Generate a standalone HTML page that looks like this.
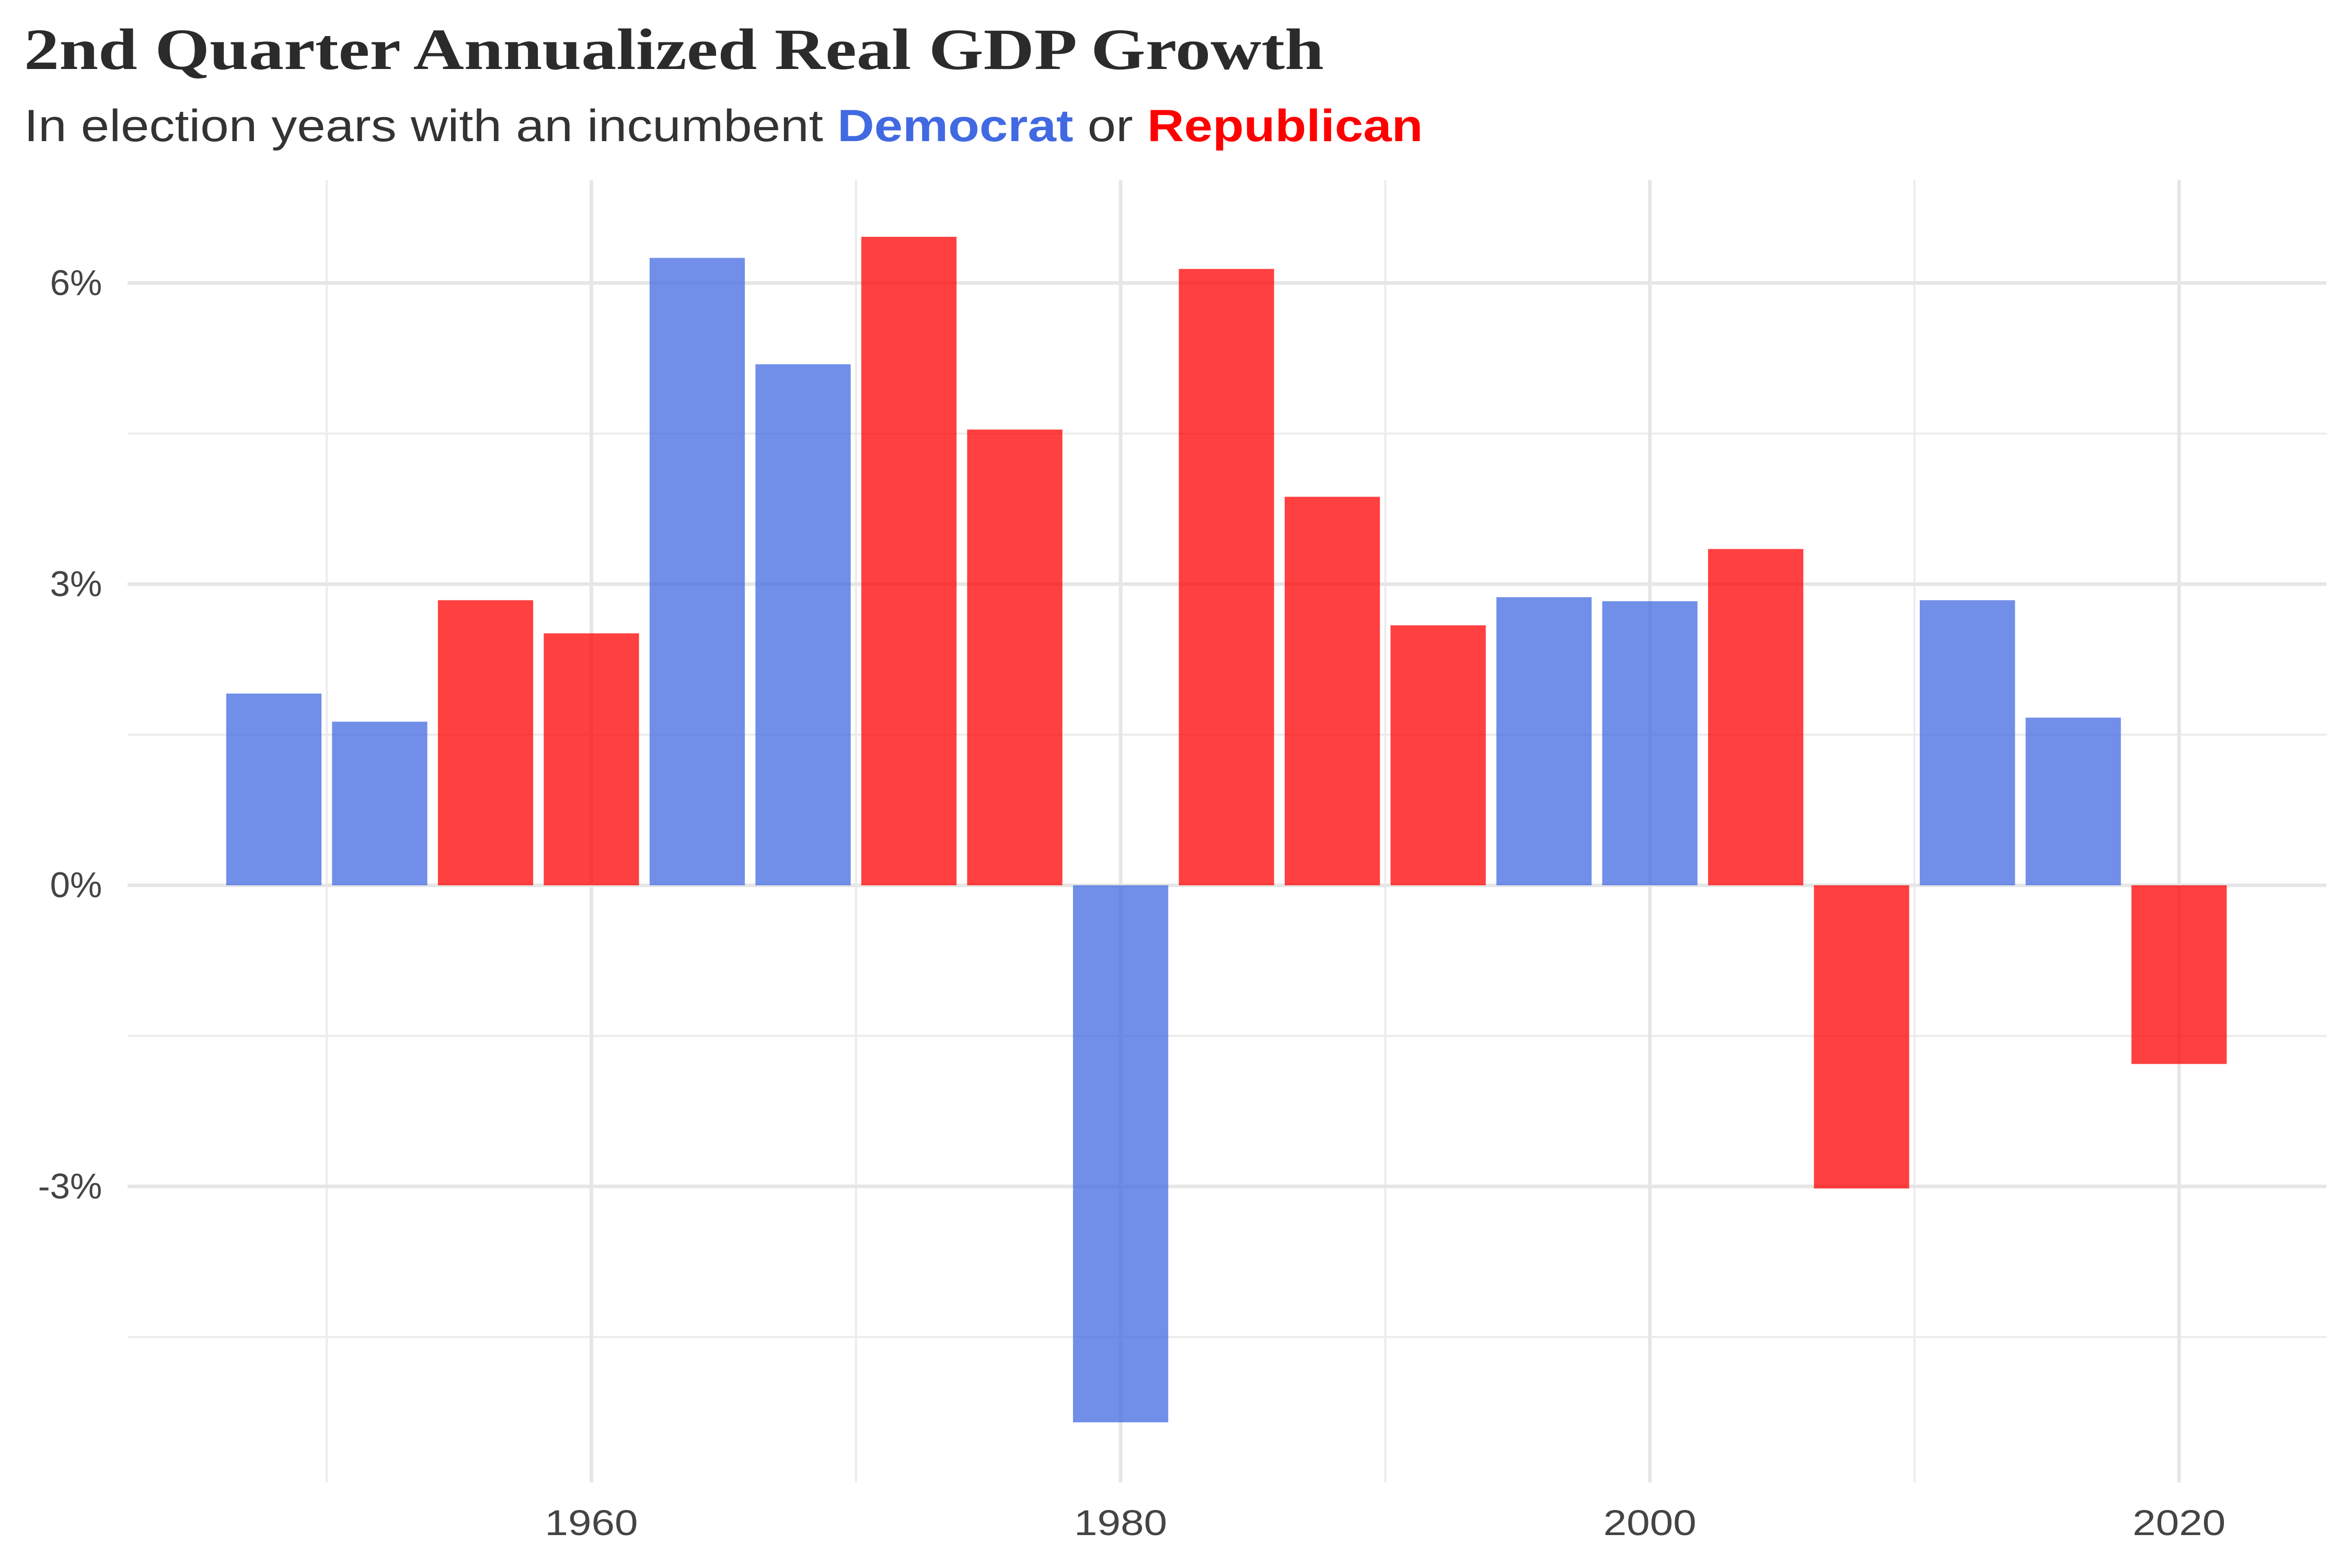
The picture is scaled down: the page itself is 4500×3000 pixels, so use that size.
<!DOCTYPE html>
<html><head><meta charset="utf-8"><style>
html,body{margin:0;padding:0;background:#fff;}
svg{display:block;}
</style></head><body>
<svg id="chart" width="4500" height="3000" viewBox="0 0 1567 1045" preserveAspectRatio="none" xmlns="http://www.w3.org/2000/svg">
<rect width="1567" height="1045" fill="#fff"/>
<text x="16" y="46" font-family="Liberation Serif, serif" font-weight="bold" font-size="39" fill="#2b2b2b" textLength="866" lengthAdjust="spacingAndGlyphs">2nd Quarter Annualized Real GDP Growth</text>
<text x="16" y="94" font-family="Liberation Sans, sans-serif" font-size="30" fill="#333" textLength="932" lengthAdjust="spacingAndGlyphs">In election years with an incumbent <tspan fill="#4169E1" font-weight="bold">Democrat</tspan> or <tspan fill="#FF0000" font-weight="bold">Republican</tspan></text>
<g id="grid"></g>
<g id="bars"></g>
<g id="labels"></g>
</svg>
<script>
const years = [1948,1952,1956,1960,1964,1968,1972,1976,1980,1984,1988,1992,1996,2000,2004,2008,2012,2016,2020];
const growth = [1.91,1.63,2.84,2.51,6.25,5.19,6.46,4.54,-5.35,6.14,3.87,2.59,2.87,2.83,3.35,-3.02,2.84,1.67,-1.78];
const party = ["D","D","R","R","D","D","R","R","D","R","R","R","D","D","R","R","D","D","R"];
const yTicks = [-3,0,3,6];
const yTickLabels = ["-3%","0%","3%","6%"];
const yMinor = [-4.5,-1.5,1.5,4.5];
const xTicks = [1960,1980,2000,2020];
const xMinor = [1950,1970,1990,2010];

const NS="http://www.w3.org/2000/svg";
const X0=85, X1=1550, Y0=120, Y1=988;
function xs(yr){return 394+(yr-1960)*17.63;}
function ys(v){return 590-v*66.9;}
function mk(tag,attrs,parent){const e=document.createElementNS(NS,tag);for(const k in attrs)e.setAttribute(k,attrs[k]);parent.appendChild(e);return e;}
const grid=document.getElementById('grid'), bars=document.getElementById('bars'), labels=document.getElementById('labels');

xMinor.forEach(t=>{const l=mk('line',{x1:xs(t),x2:xs(t),y1:Y0,y2:Y1,stroke:'#ebebeb','stroke-width':1.3},grid);

});
yMinor.forEach(t=>{const l=mk('line',{x1:X0,x2:X1,y1:ys(t),y2:ys(t),stroke:'#ebebeb','stroke-width':1.3},grid);

});
xTicks.forEach(t=>{const l=mk('line',{x1:xs(t),x2:xs(t),y1:Y0,y2:Y1,stroke:'#e6e6e6','stroke-width':2.4},grid);


const tx=mk('text',{x:xs(t),y:1023,'text-anchor':'middle','font-family':'Liberation Sans, sans-serif','font-size':24,fill:'#444',textLength:62,lengthAdjust:'spacingAndGlyphs'},labels);
tx.textContent=t;

});
yTicks.forEach((t,i)=>{const l=mk('line',{x1:X0,x2:X1,y1:ys(t),y2:ys(t),stroke:'#e6e6e6','stroke-width':2.4},grid);


const tx=mk('text',{x:68,y:ys(t)+8,'text-anchor':'end','font-family':'Liberation Sans, sans-serif','font-size':24,fill:'#444'},labels);
tx.textContent=yTickLabels[i];

});

const bw=3.6*17.63;
years.forEach((yr,i)=>{const v=growth[i];const top=Math.min(ys(v),ys(0));const h=Math.abs(ys(v)-ys(0));
const r=mk('rect',{x:xs(yr)-bw/2,y:top,width:bw,height:h,fill:party[i]==='D'?'#4169E1':'#FF0000','fill-opacity':0.75},bars);

});
</script>
</body></html>
